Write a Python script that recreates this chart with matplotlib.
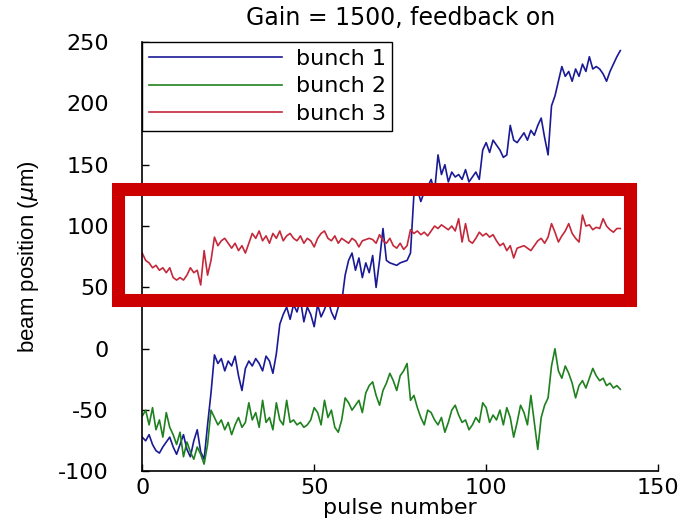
import matplotlib.pyplot as plt
from matplotlib.patches import Rectangle

# values (beam position, um) for pulses 0..139
bunch1 = [-72, -75, -70, -78, -83, -85, -80, -76, -72, -80,
          -86, -78, -70, -82, -88, -75, -66, -84, -90, -62,
          -36, -5, -12, -8, -18, -10, -14, -6, -22, -34,
          -16, -10, -14, -8, -12, -18, -6, -10, -20, -4,
          20, 28, 34, 24, 36, 30, 40, 22, 34, 28,
          18, 36, 26, 32, 40, 30, 24, 34, 38, 60,
          72, 78, 64, 74, 58, 70, 62, 76, 50, 72,
          98, 72, 70, 69, 68, 70, 71, 72, 78, 126,
          130, 120, 128, 132, 138, 128, 158, 142, 150, 136,
          144, 140, 142, 138, 146, 136, 140, 144, 138, 162,
          168, 160, 170, 166, 162, 156, 158, 182, 170, 168,
          172, 176, 170, 178, 174, 182, 188, 172, 158, 198,
          206, 218, 230, 222, 226, 218, 228, 222, 232, 226,
          238, 228, 230, 228, 224, 218, 226, 232, 238, 243]

bunch2 = [-55, -50, -62, -48, -66, -58, -72, -52, -64, -70,
          -78, -68, -88, -76, -84, -90, -80, -86, -94, -78,
          -50, -56, -62, -58, -66, -60, -70, -62, -56, -64,
          -60, -44, -58, -52, -64, -42, -60, -56, -66, -44,
          -58, -62, -42, -60, -58, -62, -60, -64, -62, -58,
          -48, -52, -62, -42, -56, -50, -64, -68, -58, -40,
          -44, -50, -46, -42, -52, -36, -30, -27, -38, -46,
          -34, -28, -20, -26, -34, -22, -18, -12, -42, -38,
          -48, -56, -62, -50, -52, -58, -62, -56, -68, -60,
          -50, -46, -54, -60, -58, -66, -62, -56, -60, -44,
          -48, -60, -54, -58, -50, -62, -48, -56, -72, -60,
          -46, -52, -62, -38, -60, -82, -56, -46, -40, -14,
          0, -18, -24, -14, -20, -28, -40, -30, -26, -32,
          -24, -16, -22, -26, -24, -30, -28, -32, -30, -33]

bunch3 = [78, 72, 70, 66, 68, 64, 66, 62, 66, 58,
          56, 58, 56, 60, 66, 62, 64, 52, 80, 60,
          72, 91, 84, 88, 90, 86, 82, 86, 80, 84,
          78, 86, 94, 90, 96, 88, 92, 86, 94, 90,
          96, 88, 92, 94, 90, 88, 92, 86, 90, 88,
          83, 90, 94, 96, 90, 88, 92, 86, 90, 88,
          86, 90, 88, 83, 88, 89, 90, 89, 86, 93,
          88, 86, 90, 84, 82, 86, 81, 84, 97, 94,
          96, 93, 95, 92, 96, 100, 98, 101, 99, 97,
          100, 96, 106, 87, 102, 88, 86, 90, 95, 92,
          94, 91, 93, 88, 84, 86, 80, 84, 74, 82,
          83, 84, 82, 80, 84, 88, 90, 86, 91, 102,
          95, 87, 92, 96, 102, 94, 90, 87, 109, 100,
          101, 97, 99, 98, 106, 100, 97, 95, 98, 98]

pulses = list(range(len(bunch1)))
labels = ['bunch 1', 'bunch 2', 'bunch 3']
colors = ['#1a1a96', '#1f801f', '#c4283a']

plt.rcParams['font.family'] = ['DejaVu Sans']
plt.rcParams['axes.unicode_minus'] = False

fig = plt.figure(figsize=(6.87, 5.23), dpi=100)
ax = fig.add_axes([0.207, 0.0985, 0.751, 0.8212])

for ys, lab, c in zip([bunch1, bunch2, bunch3], labels, colors):
    ax.plot(pulses, ys, color=c, lw=1.2, label=lab)

ax.set_xlim(0, 150)
ax.set_ylim(-100, 250)
ax.set_xticks([0, 50, 100, 150])
ax.set_yticks(range(-100, 251, 50))
ax.tick_params(direction='in', length=5, labelsize=16, width=1)
ax.tick_params(axis='y', pad=24)
ax.tick_params(axis='x', pad=5)
for s in ['top', 'right']:
    ax.spines[s].set_visible(False)
for s in ['left', 'bottom']:
    ax.spines[s].set_linewidth(1.2)

ax.set_title('Gain = 1500, feedback on', fontsize=17, pad=12)
ax.set_xlabel('pulse number', fontsize=16, labelpad=0)
ax.set_ylabel(r'beam position ($\mu$m)', fontsize=16, family='Liberation Sans', labelpad=12)

leg = ax.legend(loc='upper left', bbox_to_anchor=(0.0, 1.0), borderaxespad=0,
                fontsize=16, handlelength=6.0, handletextpad=0.6, fancybox=False,
                framealpha=1, edgecolor='black', borderpad=0.3, labelspacing=0.35)
leg.get_frame().set_linewidth(1.0)

# red highlight box drawn over the chart
fig.patches.append(Rectangle((0.1718, 0.4264), 0.917 - 0.1718, 0.6386 - 0.4264,
                             transform=fig.transFigure, fill=False,
                             edgecolor='#cc0000', lw=9.4, zorder=10))

fig.savefig('out.png', dpi=100)
